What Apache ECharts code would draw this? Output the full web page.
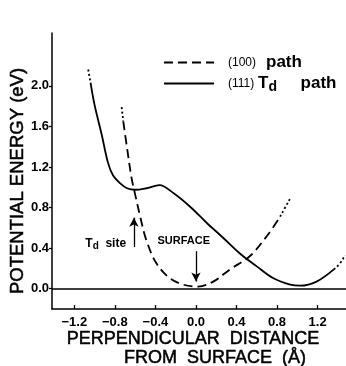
<!DOCTYPE html>
<html><head><meta charset="utf-8">
<script src="https://cdn.jsdelivr.net/npm/echarts@6/dist/echarts.min.js"></script>
<style>html,body{margin:0;padding:0;background:#fff}#c{width:346px;height:366px}</style>
</head><body><div id="c"></div>
<script>
// ---- data ----
var xTicks = [-1.2, -0.8, -0.4, 0.0, 0.4, 0.8, 1.2];
var yTicks = [0.0, 0.4, 0.8, 1.2, 1.6, 2.0];
// (111) Td path (solid)
var tdX = [-1.04, -1.0, -0.93, -0.87, -0.82, -0.75, -0.68, -0.60, -0.49, -0.36, -0.22, -0.06, 0.105, 0.27, 0.43, 0.60, 0.76, 0.93, 1.03, 1.19, 1.36];
var tdY = [2.03, 1.81, 1.52, 1.25, 1.12, 1.04, 0.99, 0.975, 0.99, 1.02, 0.94, 0.81, 0.65, 0.50, 0.35, 0.22, 0.105, 0.04, 0.03, 0.07, 0.19];
var tdDotStartX = [-1.063, -1.04], tdDotStartY = [2.16, 2.03];
var tdDotEndX = [1.36, 1.42, 1.47], tdDotEndY = [0.19, 0.25, 0.33];
// (100) path (dashed)
var p100X = [-0.717, -0.68, -0.635, -0.60, -0.55, -0.49, -0.39, -0.26, -0.125, 0.02, 0.17, 0.335, 0.53, 0.70, 0.83];
var p100Y = [1.65, 1.39, 1.09, 0.93, 0.71, 0.48, 0.25, 0.105, 0.04, 0.02, 0.07, 0.19, 0.32, 0.52, 0.71];
var p100DotStartX = [-0.733, -0.717], p100DotStartY = [1.79, 1.65];
var p100DotEndX = [0.83, 0.88, 0.93], p100DotEndY = [0.71, 0.80, 0.89];
// annotations
var tdSite = [-0.89, 0.44], tdArrowX = -0.612, tdArrowY = [0.41, 0.70];
var surf = [-0.12, 0.47], surfArrowX = 0.0, surfArrowY = [0.37, 0.07];

function pairs(xs, ys){ return xs.map(function(x,i){return [x, ys[i]];}); }
var FONT = '"Liberation Sans", Arial, sans-serif';
var chart = echarts.init(document.getElementById('c'), null, {renderer:'canvas'});
var dotStyle = {color:'#000', width:1.8, type:[2,2.5]};
var titleStyle = function(t, s){ return {text:t, font:(s||18)+'px '+FONT, fill:'#000', stroke:'#000', lineWidth:0.5, align:'center', verticalAlign:'middle'}; };
var option = {
  animation:false,
  backgroundColor:'#fff',
  grid:{left:52, right:0, top:33, bottom:57, containLabel:false},
  xAxis:{type:'value', min:-1.42, max:1.48,
    axisLine:{show:true, onZero:false, lineStyle:{color:'#000', width:1.5}},
    axisTick:{show:true, inside:true, length:4, customValues:xTicks, lineStyle:{color:'#000', width:1.3}},
    axisLabel:{customValues:xTicks, color:'#000', fontFamily:FONT, fontSize:13, fontWeight:'bold', margin:7,
      formatter:function(v){return (v<0?'\u2212':'')+Math.abs(v).toFixed(1);}},
    splitLine:{show:false}},
  yAxis:{type:'value', min:-0.2, max:2.52,
    axisLine:{show:true, onZero:false, lineStyle:{color:'#000', width:1.5}},
    axisTick:{show:true, inside:false, length:3, customValues:yTicks, lineStyle:{color:'#000', width:1.3}},
    axisLabel:{customValues:yTicks, color:'#000', fontFamily:FONT, fontSize:13, fontWeight:'bold', margin:3,
      formatter:function(v){return v.toFixed(1);}},
    splitLine:{show:false}},
  legend:{orient:'vertical', left:163, top:54, padding:0, itemWidth:50, itemHeight:20, itemGap:4,
    data:['(100) path','(111) Td path'],
    itemStyle:{opacity:0},
    formatter:function(n){
      if(n==='(100) path') return '{a|(100)}{b|path}';
      return '{c|(111)}{t|T}{s|d}{b|     path}';
    },
    textStyle:{color:'#000', fontFamily:FONT, rich:{
      a:{fontSize:12, fontFamily:FONT, color:'#000', width:38, padding:[0,0,0,9]},
      c:{fontSize:12, fontFamily:FONT, color:'#000', width:30, padding:[0,0,0,9]},
      b:{fontSize:17, fontWeight:'bold', fontFamily:FONT, color:'#000'},
      t:{fontSize:17, fontWeight:'bold', fontFamily:FONT, color:'#000'},
      s:{fontSize:14, fontWeight:'bold', fontFamily:FONT, color:'#000', padding:[7,0,0,0]}
    }}
  },
  series:[
    {name:'(100) path', type:'line', data:pairs(p100X,p100Y), smooth:0.35, symbol:'none',
      lineStyle:{color:'#000', width:1.8, type:[9,5]}, itemStyle:{color:'#000'},
      markLine:{silent:true, symbol:'none', label:{show:false},
        lineStyle:{color:'#000', width:1.5, type:'solid'},
        data:[{yAxis:0}]}},
    {name:'(111) Td path', type:'line', data:pairs(tdX,tdY), smooth:0.35, symbol:'none',
      lineStyle:{color:'#000', width:1.8, type:'solid'}, itemStyle:{color:'#000'},
      markLine:{silent:true, symbol:['none','arrow'], symbolSize:[7,9], label:{show:false},
        lineStyle:{color:'#000', width:1.3, type:'solid'},
        data:[
          [{coord:[tdArrowX, tdArrowY[0]]},{coord:[tdArrowX, tdArrowY[1]]}],
          [{coord:[surfArrowX, surfArrowY[0]]},{coord:[surfArrowX, surfArrowY[1]]}]
        ]},
      markPoint:{silent:true, symbol:'circle', symbolSize:0,
        data:[
          {coord:tdSite, label:{show:true, position:'inside', formatter:'{b|T}{s|d}  {b|site}',
            rich:{b:{fontSize:12, fontWeight:'bold', fontFamily:FONT, color:'#000'},
                  s:{fontSize:10, fontWeight:'bold', fontFamily:FONT, color:'#000', padding:[5,0,0,0]}}}},
          {coord:surf, label:{show:true, position:'inside', formatter:'SURFACE',
            fontSize:11, fontWeight:'bold', fontFamily:FONT, color:'#000'}}
        ]}},
    {name:'dot1', type:'line', data:pairs(tdDotStartX,tdDotStartY), symbol:'none', lineStyle:dotStyle},
    {name:'dot2', type:'line', data:pairs(tdDotEndX,tdDotEndY), smooth:true, symbol:'none', lineStyle:dotStyle},
    {name:'dot3', type:'line', data:pairs(p100DotStartX,p100DotStartY), symbol:'none', lineStyle:dotStyle},
    {name:'dot4', type:'line', data:pairs(p100DotEndX,p100DotEndY), smooth:true, symbol:'none', lineStyle:dotStyle}
  ],
  graphic:[
    {type:'text', x:18, y:181, rotation:Math.PI/2, style:titleStyle('POTENTIAL ENERGY (eV)', 18.5)},
    {type:'text', x:193, y:339, style:titleStyle('PERPENDICULAR  DISTANCE')},
    {type:'text', x:215, y:358, style:titleStyle('FROM  SURFACE  (\u00C5)')}
  ]
};
chart.setOption(option);
</script></body></html>
